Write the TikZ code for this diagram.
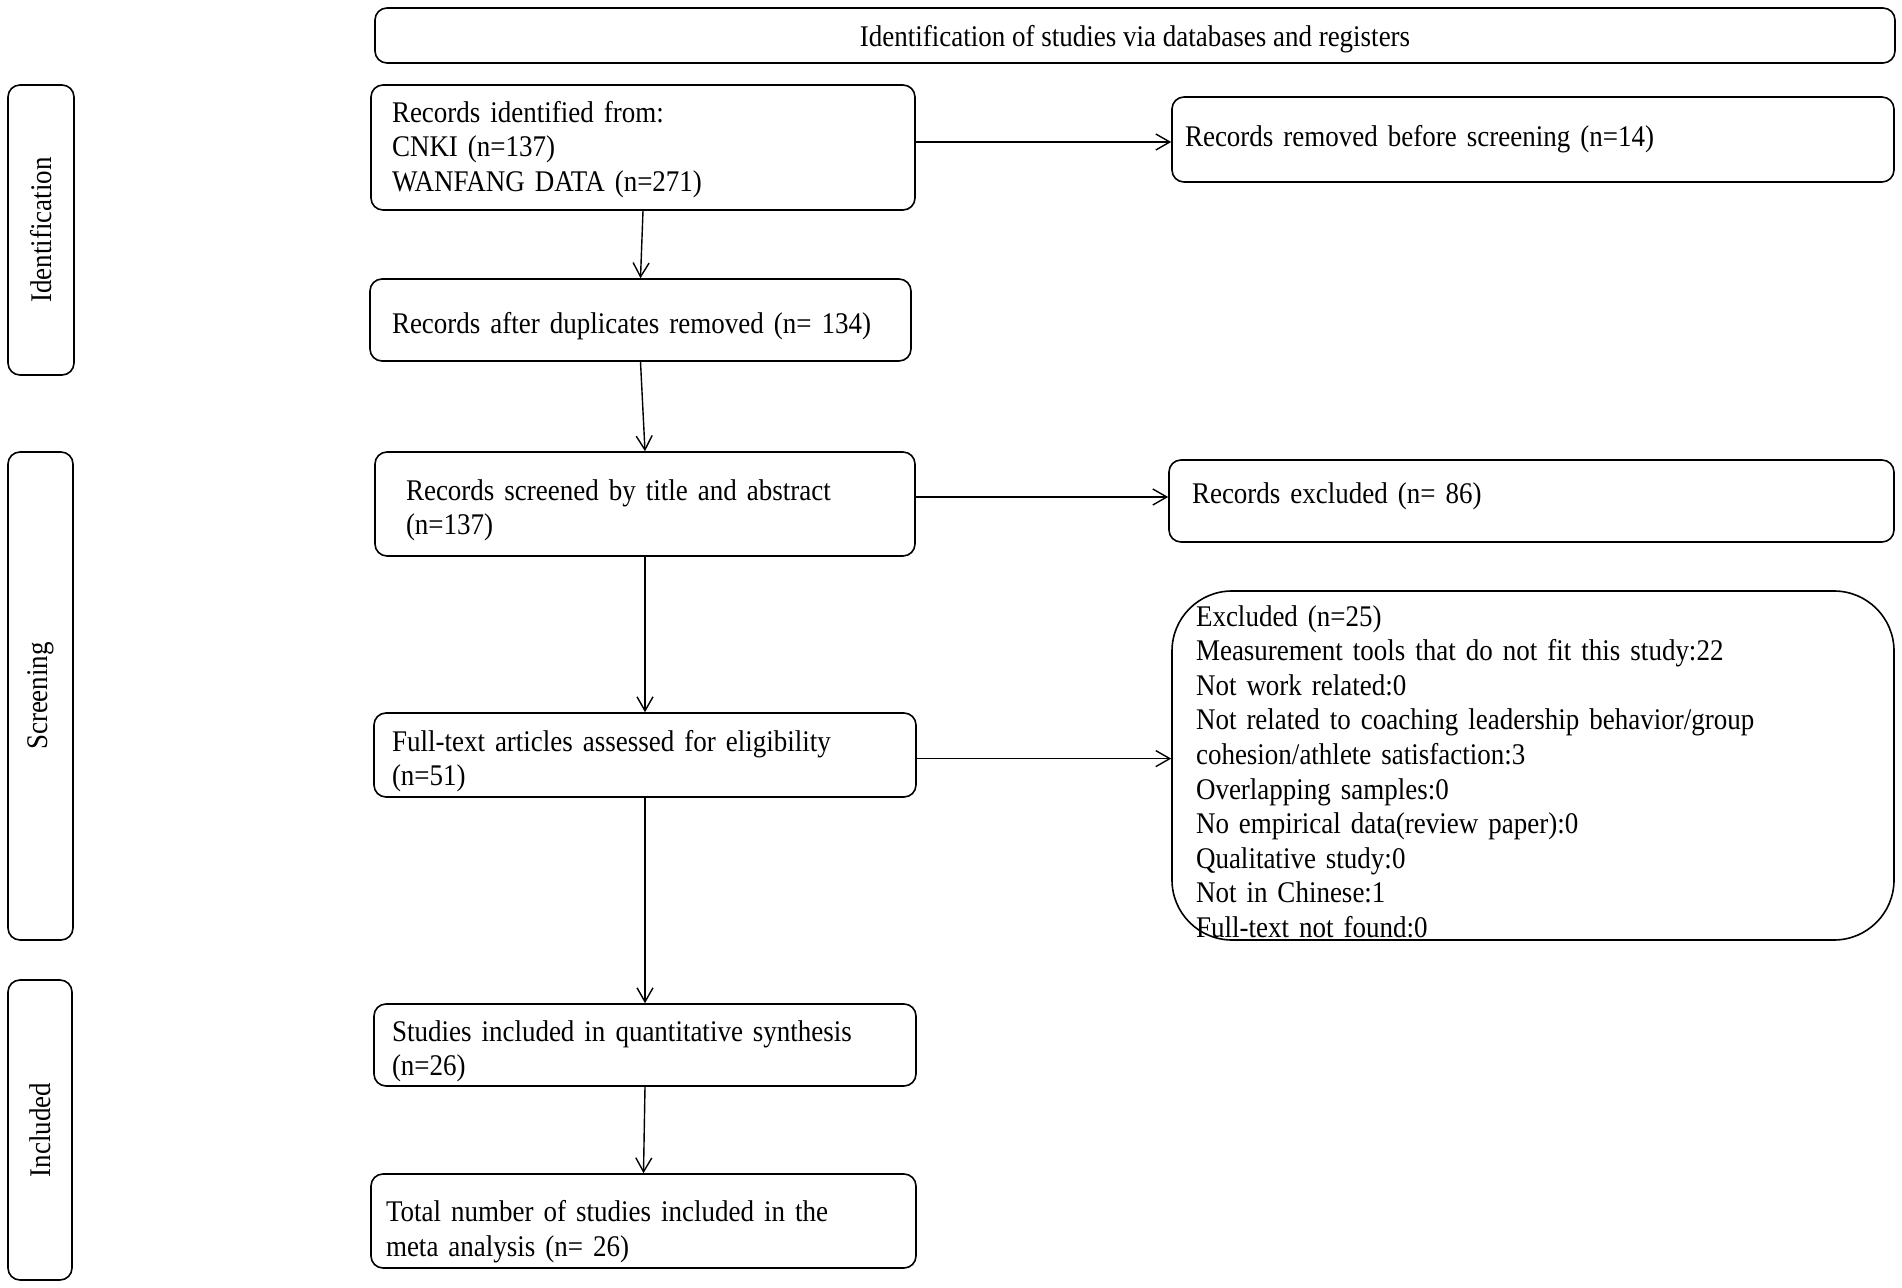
\documentclass[tikz,border=0pt]{standalone}
\usepackage{fontspec}
\setmainfont{Liberation Serif}[FakeStretch=0.9]
\usetikzlibrary{arrows.meta}
\tikzset{
    mybox/.style = {draw=black, line width=0.8pt, rounded corners=6pt, align=left, inner ysep=0pt, font=\fontsize{15}{17.3}\selectfont},
    myflow/.style = {mybox, execute at begin node={#1}},
    myflow/.default = {\rule{0pt}{16.5pt}},
    mybigbox/.style = {myflow, rounded corners=30pt},
    myside/.style = {draw=black, line width=0.8pt, rounded corners=6pt, rotate=90, align=center, inner sep=0pt, font=\fontsize{15}{17.3}\selectfont},
    edgea/.style = {-{Straight Barb[length=7pt,width=8pt]}, line width=0.7pt, black}
}

\begin{document}
\begin{tikzpicture}[x=0.5pt, y=-0.5pt]
  \useasboundingbox (0,0) rectangle (1902,1288);

  % phase labels
  \node[myside, minimum width=145pt, minimum height=33pt] (idside) at (41,230) {Identification};
  \node[myside, minimum width=244pt, minimum height=32.5pt] (scrside) at (40.5,696) {Screening};
  \node[myside, minimum width=150pt, minimum height=32pt] (incside) at (40,1130) {Included};

  \node[myflow={\rule{0pt}{14pt}}, align=center, minimum width=760pt, minimum height=27.5pt] (head) at (1135,35.5)
    {Identification of studies via databases and registers};

  % main column
  \node[myflow={\rule{0pt}{12.5pt}}, text width=251pt, inner xsep=10.5pt, minimum height=62.5pt] (ident) at (643,147.5)
    {Records identified from:\\CNKI (n=137)\\WANFANG DATA (n=271)};
  \node[myflow, text width=248.5pt, inner xsep=11pt, minimum height=41pt] (dup) at (640.5,320)
    {Records after duplicates removed (n= 134)};
  \node[myflow, text width=239pt, inner xsep=15.5pt, minimum height=52pt] (scr) at (645,504)
    {Records screened by title and abstract\\(n=137)};
  \node[myflow, text width=253pt, inner xsep=9pt, minimum height=42pt] (full) at (645,755)
    {Full-text articles assessed for eligibility\\(n=51)};
  \node[myflow, text width=253pt, inner xsep=9pt, minimum height=41pt] (stud) at (645,1045)
    {Studies included in quantitative synthesis\\(n=26)};
  \node[myflow={\rule{0pt}{21.5pt}}, text width=257.5pt, inner xsep=7.5pt, minimum height=47pt] (total) at (643.5,1221)
    {Total number of studies included in the\\meta analysis (n= 26)};

  % right column
  \node[mybox, text width=348pt, inner xsep=6.5pt, minimum height=42.5pt] (rem) at (1533,139.5)
    {Records removed before screening (n=14)};
  \node[myflow={\rule[-8pt]{0pt}{8pt}}, text width=339.5pt, inner xsep=11.5pt, minimum height=41pt] (excl) at (1531.5,501)
    {Records excluded (n= 86)};
  \node[mybigbox, text width=337pt, inner xsep=12pt, minimum height=174.5pt] (big) at (1533,765.5)
    {Excluded (n=25)\\
     Measurement tools that do not fit this study:22\\
     Not work related:0\\
     Not related to coaching leadership behavior/group\\
     cohesion/athlete satisfaction:3\\
     Overlapping samples:0\\
     No empirical data(review paper):0\\
     Qualitative study:0\\
     Not in Chinese:1\\
     Full-text not found:0};

  \draw[edgea] (ident.south) -- (dup.north);
  \draw[edgea] (dup.south) -- (scr.north);
  \draw[edgea] (scr.south) -- (full.north);
  \draw[edgea] (full.south) -- (stud.north);
  \draw[edgea] (stud.south) -- (total.north);
  \draw[edgea] ([yshift=2.75pt]ident.east) -- ([yshift=2.75pt]ident.east -| rem.west);
  \draw[edgea] ([yshift=3.5pt]scr.east) -- ([yshift=3.5pt]scr.east -| excl.west);
  \draw[edgea] ([yshift=-1.8pt]full.east) -- ([yshift=-1.8pt]full.east -| big.west);
\end{tikzpicture}
\end{document}
